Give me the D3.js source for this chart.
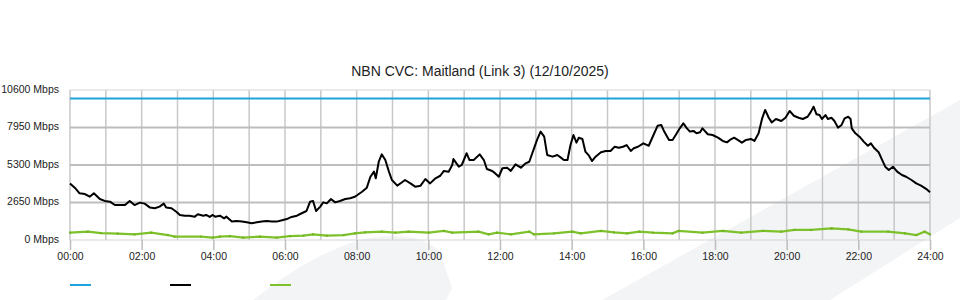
<!DOCTYPE html>
<html><head><meta charset="utf-8">
<script src="https://cdn.jsdelivr.net/npm/d3@7"></script>
<style>
html,body{margin:0;padding:0;background:#fff;}
svg{display:block;font-family:"Liberation Sans",Arial,sans-serif;}
</style></head>
<body><svg id="c" width="960" height="300"></svg>
<script>
const title = "NBN CVC: Maitland (Link 3) (12/10/2025)";
const yTicks = [0, 2650, 5300, 7950, 10600];
const xTickLabels = ["00:00","02:00","04:00","06:00","08:00","10:00","12:00","14:00","16:00","18:00","20:00","22:00","24:00"];

const capTimes = ["00:00","24:00"];
const capValues = [10000, 10000];

const blackTimes = ["00:00","00:08","00:16","00:25","00:33","00:40","00:50","00:58","01:07","01:15","01:23","01:32","01:40","01:48","01:57","02:05","02:14","02:22","02:30","02:37","02:41","02:50","02:58","03:04","03:12","03:20","03:29","03:34","03:43","03:48","03:54","03:59","04:03","04:11","04:18","04:22","04:31","04:39","04:48","04:56","05:04","05:13","05:21","05:29","05:38","05:46","05:55","06:03","06:11","06:20","06:28","06:36","06:42","06:47","06:52","06:59","07:04","07:10","07:17","07:24","07:32","07:41","07:49","07:57","08:09","08:17","08:23","08:29","08:32","08:37","08:42","08:48","08:54","08:59","09:08","09:16","09:21","09:30","09:38","09:47","09:55","10:03","10:12","10:20","10:26","10:34","10:40","10:42","10:51","10:56","11:04","11:09","11:16","11:26","11:33","11:38","11:47","11:50","11:58","12:04","12:12","12:18","12:26","12:35","12:43","12:49","12:57","13:02","13:08","13:14","13:19","13:28","13:36","13:42","13:47","13:53","13:58","14:03","14:08","14:12","14:18","14:23","14:29","14:34","14:40","14:49","14:57","15:05","15:12","15:19","15:26","15:32","15:39","15:44","15:51","16:00","16:09","16:17","16:24","16:30","16:35","16:43","16:49","16:56","17:01","17:07","17:13","17:18","17:24","17:29","17:35","17:39","17:48","17:56","18:05","18:13","18:20","18:25","18:32","18:38","18:45","18:52","19:00","19:06","19:13","19:19","19:24","19:30","19:35","19:42","19:51","19:58","20:05","20:12","20:20","20:27","20:35","20:40","20:45","20:50","20:55","20:59","21:05","21:09","21:15","21:20","21:26","21:32","21:37","21:43","21:47","21:49","21:55","22:02","22:09","22:16","22:21","22:27","22:34","22:40","22:45","22:51","22:58","23:05","23:13","23:20","23:29","23:37","23:45","23:54","24:00"];
const blackValues = [4000,3700,3300,3250,3060,3300,2900,2760,2710,2470,2470,2470,2760,2470,2640,2570,2290,2240,2360,2570,2290,2240,2000,1770,1720,1720,1650,1820,1720,1770,1630,1770,1650,1720,1530,1650,1300,1340,1300,1250,1180,1250,1300,1340,1300,1300,1390,1480,1630,1720,1890,2050,2710,2760,2050,2360,2660,2590,2900,2660,2760,2900,2950,3060,3410,3700,4470,4830,4360,5530,6050,5650,4830,4240,3840,4080,4240,4000,3770,3840,4310,4000,4360,4540,4880,4830,5300,5720,5180,5300,6130,5650,5650,6050,5650,5020,4880,4780,4470,5070,5110,4880,5350,5110,5420,5530,6480,7070,7660,7300,6010,5890,6010,5820,5650,5650,6710,7420,6880,7230,7140,6240,5960,5580,5890,6200,6290,6290,6590,6520,6590,6710,6290,6480,6590,6830,6660,7420,8080,8130,7660,7070,7070,7540,7890,8240,7890,7660,7710,7540,7610,7890,7470,7420,7230,7000,6900,7070,7230,7070,6880,7070,7140,7000,7540,8600,9190,8640,8310,8550,8410,8640,9120,8780,8640,8550,8710,9020,9420,8880,8830,8550,8830,8550,8640,8410,7940,8130,8600,8710,8550,7890,7540,7300,6950,6660,6830,6480,6200,5650,5180,4950,5180,4830,4590,4470,4240,4000,3840,3600,3370];

const greenTimes = ["00:00","00:30","00:52","01:20","01:48","02:16","02:44","02:55","03:39","03:59","04:11","04:28","04:50","05:18","05:46","06:08","06:31","06:47","07:10","07:38","07:57","08:14","08:42","09:05","09:27","10:01","10:26","10:40","11:24","11:41","11:55","12:18","12:49","12:57","13:30","14:01","14:15","14:49","15:11","15:33","15:53","16:16","16:49","16:59","17:39","18:13","18:44","19:20","19:51","20:13","20:41","21:15","21:43","22:05","22:50","23:18","23:37","23:51","24:00"];
const greenValues = [520,590,490,450,400,520,350,240,240,170,240,280,170,240,170,280,310,400,310,350,470,540,590,520,590,520,640,520,590,400,520,400,590,400,470,590,470,640,540,470,590,520,470,640,520,640,520,640,590,710,710,820,750,590,590,470,350,590,400];

const toMin = s => { const [h,m] = s.split(":").map(Number); return h*60+m; };
const zip = (t, v) => t.map((s,i)=>({t: toMin(s), v: v[i]}));

const svg = d3.select("#c");
const x = d3.scaleLinear().domain([0,1440]).range([70,930]);
const y = d3.scaleLinear().domain([0,10600]).range([240,90]);

// watermark
svg.append("path").attr("fill","#f3f4f6")
  .attr("d","M253,300 C285,275 320,252 360,240 C395,232 425,236 440,252 L452,288 L446,300 Z");
svg.append("path").attr("fill","#f3f4f6")
  .attr("d","M602,300 L960,100 L960,218 L830,300 Z");

// title
svg.append("text").attr("x",480).attr("y",75.5).attr("text-anchor","middle")
  .attr("font-size",14).attr("fill","#222").text(title);

// vertical grid
const hours = d3.range(0, 1441, 60);
svg.append("g").selectAll("line").data(hours).join("line")
  .attr("x1", d=>x(d)).attr("x2", d=>x(d))
  .attr("y1", y(10600)).attr("y2", y(0))
  .attr("stroke","#c8c8c8").attr("stroke-width",1.5);

// horizontal grid
svg.append("g").selectAll("line").data(yTicks).join("line")
  .attr("x1", x(0)).attr("x2", x(1440))
  .attr("y1", d=>y(d)).attr("y2", d=>y(d))
  .attr("stroke", d => (d===0||d===10600) ? "#d4d4d4" : "#bdbdbd")
  .attr("stroke-width", d => (d===0||d===10600) ? 1 : 2);

// x axis
const xAxis = d3.axisBottom(x)
  .tickValues(xTickLabels.map(toMin))
  .tickFormat((d,i)=>xTickLabels[i])
  .tickSize(10).tickPadding(3);
const gx = svg.append("g").attr("transform",`translate(0,${y(0)})`).call(xAxis);
gx.select(".domain").remove();
gx.selectAll(".tick line").attr("stroke","#bdbdbd").attr("stroke-width",1.5);
gx.selectAll(".tick text").attr("font-size",10.5).attr("fill","#222")
  .attr("font-family",'"Liberation Sans",Arial,sans-serif');

// y axis
const yAxis = d3.axisLeft(y).tickValues(yTicks).tickFormat(d=>`${d} Mbps`).tickSize(0).tickPadding(11);
const gy = svg.append("g").attr("transform",`translate(${x(0)},0)`).call(yAxis);
gy.select(".domain").remove();
gy.selectAll(".tick text").attr("font-size",10.5).attr("fill","#222").attr("dy","0.22em")
  .attr("font-family",'"Liberation Sans",Arial,sans-serif');

const line = d3.line().x(d=>x(d.t)).y(d=>y(d.v));

const green = zip(greenTimes, greenValues);
svg.append("path").datum(green).attr("fill","none").attr("stroke","#7dc12b")
  .attr("stroke-width",2.2).attr("d",line);
svg.append("g").selectAll("rect").data(green).join("rect")
  .attr("x",d=>x(d.t)-1).attr("y",d=>y(d.v)-1).attr("width",2).attr("height",2)
  .attr("fill","#6fb31f");

svg.append("path").datum(zip(blackTimes, blackValues)).attr("fill","none")
  .attr("stroke","#000").attr("stroke-width",2).attr("stroke-linejoin","round").attr("d",line);

svg.append("path").datum(zip(capTimes, capValues)).attr("fill","none")
  .attr("stroke","#1ea3dc").attr("stroke-width",2).attr("d",line);

// legend
const legendColors = ["#1ea3dc","#000","#7dc12b"];
svg.append("g").selectAll("line").data(legendColors).join("line")
  .attr("x1",(d,i)=>70+i*100).attr("x2",(d,i)=>91+i*100)
  .attr("y1",285).attr("y2",285).attr("stroke",d=>d).attr("stroke-width",2);
</script></body></html>
